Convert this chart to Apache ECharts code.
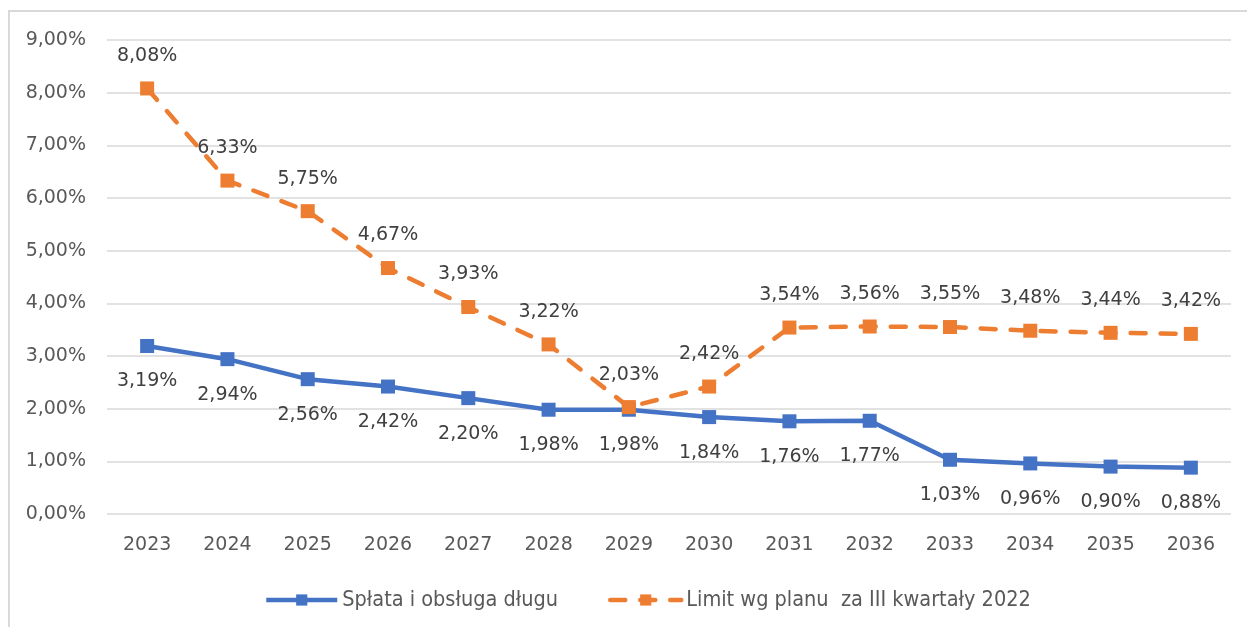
<!DOCTYPE html>
<html>
<head>
<meta charset="utf-8">
<title>Spłata i obsługa długu</title>
<script src="https://cdn.jsdelivr.net/npm/echarts@6/dist/echarts.min.js"></script>
<style>
  html, body { margin: 0; padding: 0; background: #fff; }
  #chart { width: 1247px; height: 627px; }
</style>
</head>
<body>
<div id="chart"></div>
<script>
const years = ['2023', '2024', '2025', '2026', '2027', '2028', '2029', '2030', '2031', '2032', '2033', '2034', '2035', '2036'];
const splata = [3.19, 2.94, 2.56, 2.42, 2.20, 1.98, 1.98, 1.84, 1.76, 1.77, 1.03, 0.96, 0.90, 0.88];
const limit = [8.08, 6.33, 5.75, 4.67, 3.93, 3.22, 2.03, 2.42, 3.54, 3.56, 3.55, 3.48, 3.44, 3.42];
const seriesNames = ['Spłata i obsługa długu', 'Limit wg planu  za III kwartały 2022'];

const pct = v => v.toFixed(2).replace('.', ',') + '%';

const labelFont = { fontFamily: 'DejaVu Sans', fontSize: 19, color: '#404040' };
const legendFont = { fontFamily: "'Liberation Sans Narrow', 'DejaVu Sans Condensed', sans-serif", fontSize: 21.5, color: '#595959' };

const chart = echarts.init(document.getElementById('chart'));

chart.setOption({
  animation: false,
  backgroundColor: '#fff',
  graphic: [{
    type: 'polyline',
    shape: { points: [[9, 627], [9, 11], [1247, 11]] },
    style: { stroke: '#d9d9d9', lineWidth: 2, fill: null },
    silent: true
  }],
  grid: { left: 107, right: 16, top: 40, bottom: 113 },
  legend: [
    {
      data: [seriesNames[0]],
      left: 259, top: 584,
      itemWidth: 71, itemHeight: 14,
      lineStyle: { width: 4.5 },
      textStyle: legendFont
    },
    {
      data: [seriesNames[1]],
      left: 603, top: 584,
      itemWidth: 71, itemHeight: 14,
      lineStyle: { width: 4.5 },
      textStyle: legendFont
    }
  ],
  xAxis: {
    type: 'category',
    data: years,
    boundaryGap: true,
    axisLine: { show: false },
    axisTick: { show: false },
    axisLabel: { ...labelFont, color: '#595959', margin: 22 }
  },
  yAxis: {
    type: 'value',
    min: 0, max: 9, interval: 1,
    axisLine: { show: false },
    axisTick: { show: false },
    axisLabel: { ...labelFont, color: '#595959', margin: 21, formatter: v => pct(v) },
    splitLine: { lineStyle: { color: '#d9d9d9', width: 1.5 } }
  },
  series: [
    {
      name: seriesNames[0],
      type: 'line',
      data: splata,
      symbol: 'rect',
      symbolSize: 14,
      itemStyle: { color: '#4472C4' },
      lineStyle: { color: '#4472C4', width: 4.5 },
      label: { show: true, position: 'bottom', distance: 19, ...labelFont, formatter: p => pct(p.value) }
    },
    {
      name: seriesNames[1],
      type: 'line',
      data: limit,
      symbol: 'rect',
      symbolSize: 14,
      itemStyle: { color: '#ED7D31' },
      lineStyle: { color: '#ED7D31', width: 4.5, type: [15, 15], cap: 'round' },
      label: { show: true, position: 'top', distance: 16, ...labelFont, formatter: p => pct(p.value) }
    }
  ]
});
</script>
</body>
</html>
